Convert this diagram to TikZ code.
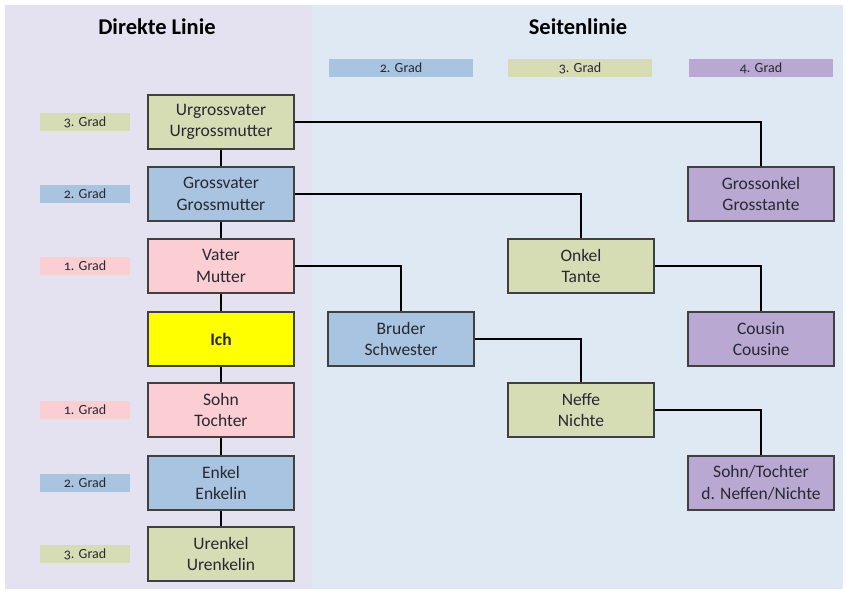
\documentclass[tikz,border=0pt]{standalone}
\usepackage{fontspec}
\setmainfont{Carlito}[Numbers=OldStyle]
\definecolor{bgL}{RGB}{228,226,240}
\definecolor{bgR}{RGB}{223,233,244}
\definecolor{cGreen}{RGB}{214,221,180}
\definecolor{cBlue}{RGB}{168,196,224}
\definecolor{cPurple}{RGB}{185,168,210}
\definecolor{cPink}{RGB}{250,206,210}
\definecolor{cYellow}{RGB}{255,255,0}
\definecolor{cBorder}{RGB}{64,64,64}
\definecolor{cText}{RGB}{40,40,50}
\tikzset{
  box/.style={draw=cBorder, line width=1.8pt, minimum width=146pt, minimum height=54pt,
    align=center, font=\fontsize{17.5}{21.5}\selectfont, text=cText, inner sep=0pt},
  grad/.style={minimum width=90pt, minimum height=18pt, inner sep=0pt,
    font=\fontsize{14}{15}\selectfont, text=cText},
  leg/.style={minimum width=144pt, minimum height=18pt, inner sep=0pt,
    font=\fontsize{14}{15}\selectfont, text=cText},
  conn/.style={line width=1.5pt, black},
  title/.style={font=\fontsize{22.5}{26}\selectfont\bfseries, text=black}
}
\begin{document}
\begin{tikzpicture}[x=1pt,y=-1pt]
\useasboundingbox (0,0) rectangle (846,595);
\fill[white] (0,0) rectangle (846,595);
\fill[bgL] (5,5) rectangle (312,589);
\fill[bgR] (312,5) rectangle (843,589);
\node[title] (tL) at (157,27) {Direkte Linie};
\node[title] (tR) at (578,27) {Seitenlinie};
% legend
\node[leg, fill=cBlue] (l2) at (401,68) {2. Grad};
\node[leg, fill=cGreen] (l3) at (580,68) {3. Grad};
\node[leg, fill=cPurple] (l4) at (761,68) {4. Grad};
% left labels
\node[grad, fill=cGreen] (g1) at (85,122) {3. Grad};
\node[grad, fill=cBlue] (g2) at (85,194) {2. Grad};
\node[grad, fill=cPink] (g3) at (85,266) {1. Grad};
\node[grad, fill=cPink] (g4) at (85,410) {1. Grad};
\node[grad, fill=cBlue] (g5) at (85,483) {2. Grad};
\node[grad, fill=cGreen] (g6) at (85,554) {3. Grad};
% direct line boxes
\node[box, fill=cGreen] (ugv) at (221,122) {Urgrossvater\\Urgrossmutter};
\node[box, fill=cBlue] (gv) at (221,194) {Grossvater\\Grossmutter};
\node[box, fill=cPink] (v) at (221,266) {Vater\\Mutter};
\node[box, fill=cYellow] (ich) at (221,339) {\bfseries Ich};
\node[box, fill=cPink] (sohn) at (221,410) {Sohn\\Tochter};
\node[box, fill=cBlue] (enk) at (221,483) {Enkel\\Enkelin};
\node[box, fill=cGreen] (uenk) at (221,554) {Urenkel\\Urenkelin};
% side line boxes
\node[box, fill=cPurple] (go) at (761,194) {Grossonkel\\Grosstante};
\node[box, fill=cGreen] (on) at (581,266) {Onkel\\Tante};
\node[box, fill=cPurple] (cou) at (761,339) {Cousin\\Cousine};
\node[box, fill=cBlue] (bru) at (401,339) {Bruder\\Schwester};
\node[box, fill=cGreen] (nef) at (581,410) {Neffe\\Nichte};
\node[box, fill=cPurple] (snt) at (761,483) {Sohn/Tochter\\d. Neffen/Nichte};
% connectors
\draw[conn] (ugv) -- (gv);
\draw[conn] (gv) -- (v);
\draw[conn] (v) -- (ich);
\draw[conn] (ich) -- (sohn);
\draw[conn] (sohn) -- (enk);
\draw[conn] (enk) -- (uenk);
\draw[conn] (ugv.east) -| (go.north);
\draw[conn] (gv.east) -| (on.north);
\draw[conn] (v.east) -| (bru.north);
\draw[conn] (on.east) -| (cou.north);
\draw[conn] (bru.east) -| (nef.north);
\draw[conn] (nef.east) -| (snt.north);
\end{tikzpicture}
\end{document}
